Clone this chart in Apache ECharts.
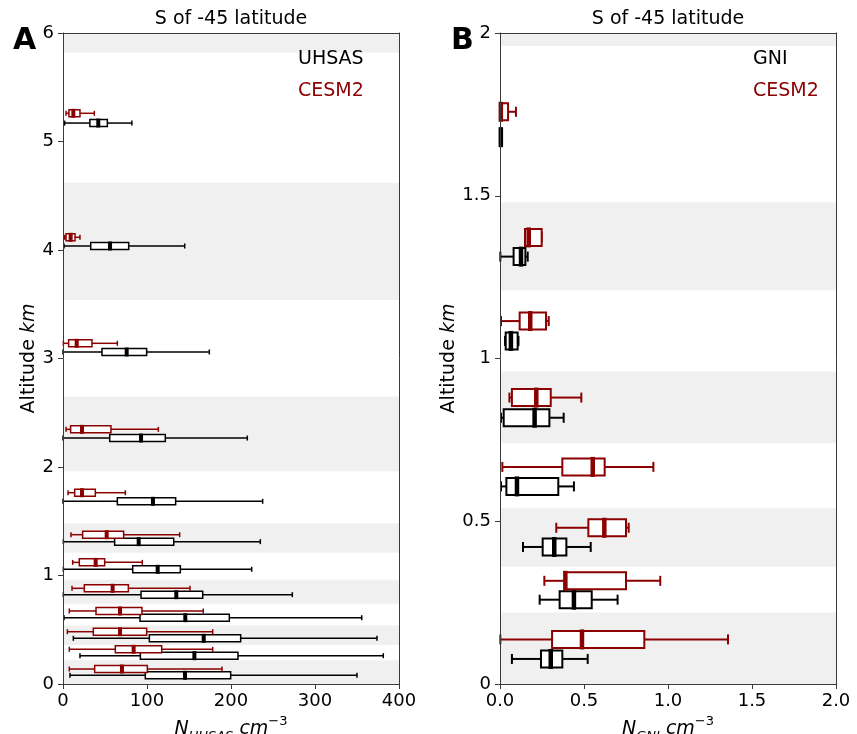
<!DOCTYPE html>
<html><head><meta charset="utf-8">
<script src="https://cdn.jsdelivr.net/npm/echarts@6/dist/echarts.min.js"></script>
<style>html,body{margin:0;padding:0;background:#fff}#c{width:857px;height:734px}</style>
</head><body><div id="c"></div>
<script>
// Altitude bins shaded in grey (km)
const shadedBins = [[0, 0.22], [0.36, 0.54], [0.74, 0.96], [1.21, 1.48], [1.96, 2.65], [3.54, 4.62], [5.82, 6.0]];

// Each row: [altitude km, min, q1, median, q3, max]
const uhsasObs = [
  [0.080, 8.3, 98, 145.2, 199.6, 350],
  [0.261, 20.2, 92.1, 156.4, 208.3, 381.3],
  [0.421, 12.3, 102.8, 167.5, 211.5, 373.8],
  [0.611, 1.2, 91.7, 145.6, 198, 355.6],
  [0.823, 0.4, 92.9, 134.9, 166.3, 273],
  [1.057, 0.4, 83, 112.7, 139.7, 224.6],
  [1.312, 0.4, 61.5, 90.1, 131.8, 234.9],
  [1.684, 0, 64.7, 107.1, 134.1, 237.7],
  [2.267, 0, 55.6, 92.9, 121.8, 219.4],
  [3.06, 0, 46.4, 75.8, 99.6, 174.2],
  [4.037, 1.2, 33, 56, 78.2, 144.9],
  [5.17, 2, 32, 42, 52.8, 82]
];
const uhsasCesm = [
  [0.138, 7.5, 37.7, 70.2, 100.4, 189.3],
  [0.32, 7.5, 62.3, 84.1, 117.5, 178.2],
  [0.482, 5.2, 36.1, 67.9, 99.6, 178.2],
  [0.673, 7.5, 39.3, 67.9, 94, 167],
  [0.882, 10.7, 25.4, 59.1, 77.8, 151.2],
  [1.121, 11.5, 19.4, 38.9, 49.6, 94.4],
  [1.376, 9.5, 23.4, 52, 72.2, 138.9],
  [1.763, 6, 13.9, 22.6, 38.5, 74.2],
  [2.347, 3.6, 9.1, 22.6, 57.1, 113.5],
  [3.14, 0.4, 6.7, 16.3, 34.5, 64.7],
  [4.117, 2, 3.6, 9.1, 14.3, 20.2],
  [5.26, 3.6, 7.1, 12.3, 20.2, 37.3]
];
const gniObs = [
  [0.077, 0.071, 0.244, 0.302, 0.371, 0.522],
  [0.259, 0.236, 0.355, 0.44, 0.546, 0.7],
  [0.421, 0.137, 0.254, 0.323, 0.395, 0.54],
  [0.607, 0.006, 0.038, 0.101, 0.347, 0.44],
  [0.818, 0.006, 0.022, 0.206, 0.294, 0.379],
  [1.054, 0.03, 0.034, 0.065, 0.105, 0.11],
  [1.313, 0.002, 0.081, 0.125, 0.151, 0.165],
  [1.68, 0.005, 0.005, 0.005, 0.005, 0.005]
];
const gniCesm = [
  [0.137, 0.002, 0.31, 0.488, 0.859, 1.357],
  [0.317, 0.264, 0.387, 0.389, 0.75, 0.954],
  [0.48, 0.335, 0.526, 0.621, 0.75, 0.766],
  [0.667, 0.014, 0.371, 0.552, 0.623, 0.913],
  [0.88, 0.056, 0.071, 0.216, 0.302, 0.484],
  [1.115, 0.006, 0.117, 0.18, 0.274, 0.29],
  [1.372, 0.149, 0.149, 0.171, 0.248, 0.248],
  [1.758, 0.0, 0.002, 0.005, 0.048, 0.095]
];

const RED = '#8b0000', BLACK = '#000000', BAND = '#f0f0f0', AXC = '#3a3a3a';
const FONT = 'DejaVu Sans';

function boxRender(color, boxH, capH, medW, medH, lw) {
  return function (params, api) {
    const y = api.value(0);
    const pMin = api.coord([api.value(1), y]);
    const pQ1 = api.coord([api.value(2), y]);
    const pMed = api.coord([api.value(3), y]);
    const pQ3 = api.coord([api.value(4), y]);
    const pMax = api.coord([api.value(5), y]);
    const cy = pMin[1];
    const st = { stroke: color, lineWidth: lw, fill: null };
    return {
      type: 'group', children: [
        { type: 'line', shape: { x1: pMin[0], y1: cy, x2: pQ1[0], y2: cy }, style: st },
        { type: 'line', shape: { x1: pQ3[0], y1: cy, x2: pMax[0], y2: cy }, style: st },
        { type: 'line', shape: { x1: pMin[0], y1: cy - capH / 2, x2: pMin[0], y2: cy + capH / 2 }, style: st },
        { type: 'line', shape: { x1: pMax[0], y1: cy - capH / 2, x2: pMax[0], y2: cy + capH / 2 }, style: st },
        { type: 'rect', shape: { x: pQ1[0], y: cy - boxH / 2, width: Math.max(pQ3[0] - pQ1[0], 0.5), height: boxH }, style: { stroke: color, lineWidth: lw, fill: '#ffffff' } },
        { type: 'rect', shape: { x: pMed[0] - medW / 2, y: cy - medH / 2, width: medW, height: medH }, style: { fill: color } }
      ]
    };
  };
}

function bandRender(xmax) {
  return function (params, api) {
    const p0 = api.coord([0, api.value(0)]);
    const p1 = api.coord([xmax, api.value(1)]);
    const rect = echarts.graphic.clipRectByRect(
      { x: p0[0], y: p1[1], width: p1[0] - p0[0], height: p0[1] - p1[1] },
      { x: params.coordSys.x, y: params.coordSys.y, width: params.coordSys.width, height: params.coordSys.height });
    return rect && { type: 'rect', shape: rect, style: { fill: BAND } };
  };
}

function valAxis(grid, min, max, interval, fmt, margin) {
  return {
    type: 'value', gridIndex: grid, min, max, interval, z: 10,
    axisLine: { show: true, onZero: false, lineStyle: { color: AXC, width: 1 } },
    axisTick: { show: true, inside: false, length: 5, lineStyle: { color: AXC } },
    axisLabel: { formatter: fmt, fontFamily: FONT, fontSize: 18, color: '#000', margin },
    splitLine: { show: false }
  };
}
function frameAxis(grid, pos, min, max) {
  return {
    type: 'value', gridIndex: grid, position: pos, min, max, z: 10,
    axisLine: { show: true, onZero: false, lineStyle: { color: AXC, width: 1 } },
    axisTick: { show: false }, axisLabel: { show: false }, splitLine: { show: false }
  };
}

const nameRich = {
  n: { fontFamily: FONT, fontSize: 19, fontStyle: 'italic', color: '#000', verticalAlign: 'middle', lineHeight: 28 },
  sub: { fontFamily: FONT, fontSize: 13, fontStyle: 'italic', color: '#000', verticalAlign: 'bottom', lineHeight: 16 },
  sup: { fontFamily: FONT, fontSize: 13, color: '#000', verticalAlign: 'top', lineHeight: 16 },
  r: { fontFamily: FONT, fontSize: 19, color: '#000', verticalAlign: 'middle', lineHeight: 28 }
};

const chart = echarts.init(document.getElementById('c'), null, { renderer: 'canvas' });
const xa = valAxis(0, 0, 400, 100, v => String(v), 8);
xa.name = '{n|N}{sub|UHSAS}{r| }{n|cm}{sup|\u22123}'; xa.nameLocation = 'middle'; xa.nameGap = 27; xa.nameTextStyle = { rich: nameRich };
const xb = valAxis(1, 0, 2, 0.5, v => v.toFixed(1), 8);
xb.name = '{n|N}{sub|GNI}{r| }{n|cm}{sup|\u22123}'; xb.nameLocation = 'middle'; xb.nameGap = 27; xb.nameTextStyle = { rich: nameRich };
const ya = valAxis(0, 0, 6, 1, v => String(v), 9);
const yb = valAxis(1, 0, 2, 0.5, v => String(v), 9);
const yRich = {
  r: { fontFamily: FONT, fontSize: 19, color: '#000' },
  i: { fontFamily: FONT, fontSize: 19, fontStyle: 'italic', color: '#000' }
};
ya.name = '{r|Altitude }{i|km}'; ya.nameLocation = 'middle'; ya.nameGap = 24; ya.nameTextStyle = { rich: yRich };
yb.name = '{r|Altitude }{i|km}'; yb.nameLocation = 'middle'; yb.nameGap = 41; yb.nameTextStyle = { rich: yRich };

const titleStyle = { fontFamily: FONT, fontSize: 19, fontWeight: 'normal', color: '#000' };
function label(text, left, top, color, size, weight) {
  return { text, left, top, padding: 0, textStyle: { fontFamily: FONT, fontSize: size, fontWeight: weight, color } };
}

chart.setOption({
  animation: false,
  backgroundColor: '#fff',
  title: [
    { text: 'S of -45 latitude', left: 231, top: 10, padding: 0, textAlign: 'center', textStyle: titleStyle },
    { text: 'S of -45 latitude', left: 668, top: 10, padding: 0, textAlign: 'center', textStyle: titleStyle },
    label('A', 13, 26, '#000', 30, 'bold'),
    label('B', 451, 26, '#000', 30, 'bold'),
    label('UHSAS', 298, 50, BLACK, 19, 'normal'),
    label('CESM2', 298, 82, RED, 19, 'normal'),
    label('GNI', 753, 50, BLACK, 19, 'normal'),
    label('CESM2', 753, 82, RED, 19, 'normal')
  ],
  grid: [
    { left: 63, top: 33, width: 336, height: 651, outerBoundsMode: 'none', containLabel: false },
    { left: 500, top: 33, width: 336, height: 651, outerBoundsMode: 'none', containLabel: false }
  ],
  xAxis: [xa, xb, frameAxis(0, 'top', 0, 400), frameAxis(1, 'top', 0, 2)],
  yAxis: [ya, yb, frameAxis(0, 'right', 0, 6), frameAxis(1, 'right', 0, 2)],
  series: [
    { type: 'custom', xAxisIndex: 0, yAxisIndex: 0, z: 1, renderItem: bandRender(400), data: shadedBins, silent: true },
    { type: 'custom', xAxisIndex: 1, yAxisIndex: 1, z: 1, renderItem: bandRender(2), data: shadedBins, silent: true },
    { name: 'UHSAS', type: 'custom', xAxisIndex: 0, yAxisIndex: 0, z: 3, renderItem: boxRender(BLACK, 7, 5, 4, 9, 1.5), data: uhsasObs },
    { name: 'CESM2', type: 'custom', xAxisIndex: 0, yAxisIndex: 0, z: 3, renderItem: boxRender(RED, 7, 5, 4, 9, 1.5), data: uhsasCesm },
    { name: 'GNI', type: 'custom', xAxisIndex: 1, yAxisIndex: 1, z: 3, renderItem: boxRender(BLACK, 17, 10, 4.5, 20, 2), data: gniObs },
    { name: 'CESM2 ', type: 'custom', xAxisIndex: 1, yAxisIndex: 1, z: 3, renderItem: boxRender(RED, 17, 10, 4.5, 20, 2), data: gniCesm }
  ]
});
</script></body></html>
